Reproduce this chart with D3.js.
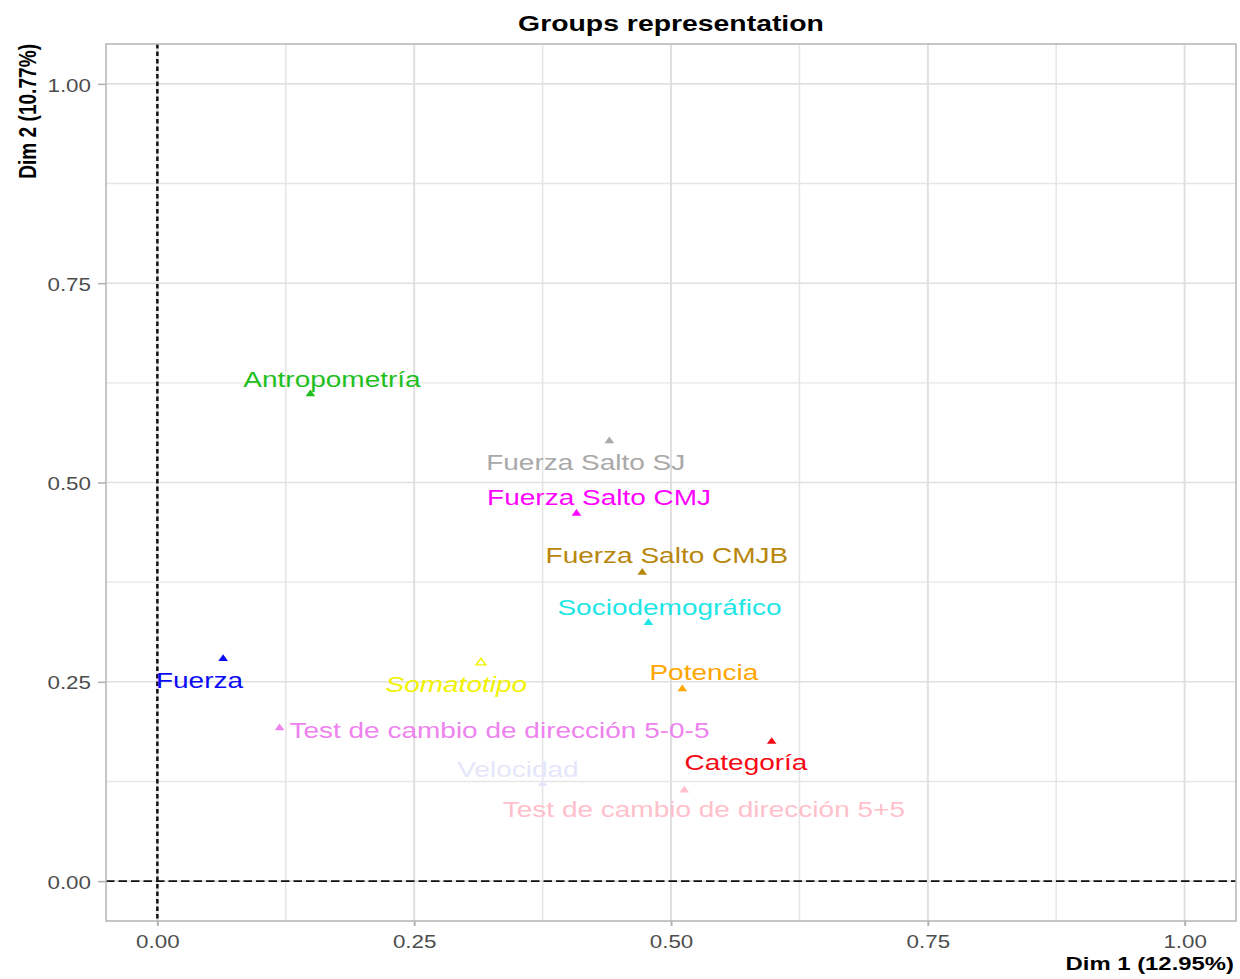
<!DOCTYPE html>
<html>
<head>
<meta charset="utf-8">
<script src="https://cdn.jsdelivr.net/npm/d3@7"></script>
<style>
  html, body { margin: 0; padding: 0; background: #ffffff; }
  svg { display: block; }
  text { font-family: "Liberation Sans", Arial, Helvetica, sans-serif; }
</style>
</head>
<body>
<svg id="chart" width="1240" height="979"></svg>
<script>
// Group coordinates on the first two dimensions
const groups = [
  "Antropometría", "Fuerza Salto SJ", "Fuerza Salto CMJ", "Fuerza Salto CMJB",
  "Sociodemográfico", "Fuerza", "Somatotipo", "Test de cambio de dirección 5-0-5",
  "Potencia", "Categoría", "Velocidad", "Test de cambio de dirección 5+5"
];
const dim1 = [0.149, 0.440, 0.408, 0.472, 0.478, 0.064, 0.315, 0.119, 0.511, 0.598, 0.375, 0.513];
const dim2 = [0.611, 0.552, 0.461, 0.387, 0.324, 0.279, 0.274, 0.192, 0.241, 0.175, 0.122, 0.114];

// Repelled label anchors (data units)
const labelDim1 = [0.170, 0.417, 0.430, 0.496, 0.4985, 0.041, 0.291, 0.333, 0.532, 0.573, 0.351, 0.532];
const labelDim2 = [0.630, 0.526, 0.482, 0.409, 0.344, 0.252, 0.247, 0.189, 0.262, 0.149, 0.140, 0.090];

// Group palette
const palette = ["#1fbf1f", "#a9a9a9", "#ff00ff", "#b8860b", "#1ee6e6", "#0a0af5",
                 "#f2f200", "#ee82ee", "#ffa500", "#f50a14", "#e6e6fa", "#ffc0cb"];
const hollowGroups = ["Somatotipo"];
const italicGroups = ["Somatotipo"];

const xTicks = [0, 0.25, 0.5, 0.75, 1];
const yTicks = [0, 0.25, 0.5, 0.75, 1];
const xMinor = [0.125, 0.375, 0.625, 0.875];
const yMinor = [0.125, 0.375, 0.625, 0.875];

const titleText = "Groups representation";
const xTitle = "Dim 1 (12.95%)";
const yTitle = "Dim 2 (10.77%)";

// Horizontal stretch applied to glyphs
const SX = 1.25;

const svg = d3.select("#chart");
const panel = { left: 106, right: 1236, top: 44, bottom: 921 };

const x = d3.scaleLinear().domain([-0.05, 1.05]).range([panel.left, panel.right]);
const y = d3.scaleLinear().domain([-0.05, 1.05]).range([panel.bottom, panel.top]);
const color = d3.scaleOrdinal().domain(groups).range(palette);

const data = groups.map((g, i) => ({
  name: g, d1: dim1[i], d2: dim2[i], l1: labelDim1[i], l2: labelDim2[i]
}));

// Panel background
svg.append("rect")
  .attr("x", panel.left).attr("y", panel.top)
  .attr("width", panel.right - panel.left).attr("height", panel.bottom - panel.top)
  .attr("fill", "#ffffff");

// Grid
const grid = svg.append("g");
grid.selectAll("line.vminor").data(xMinor).join("line")
  .attr("x1", d => x(d)).attr("x2", d => x(d))
  .attr("y1", panel.top).attr("y2", panel.bottom)
  .attr("stroke", "#e6e6e6").attr("stroke-width", 1.6);
grid.selectAll("line.hminor").data(yMinor).join("line")
  .attr("y1", d => y(d)).attr("y2", d => y(d))
  .attr("x1", panel.left).attr("x2", panel.right)
  .attr("stroke", "#e6e6e6").attr("stroke-width", 1.3);
grid.selectAll("line.vmajor").data(xTicks).join("line")
  .attr("x1", d => x(d)).attr("x2", d => x(d))
  .attr("y1", panel.top).attr("y2", panel.bottom)
  .attr("stroke", "#e0e0e0").attr("stroke-width", 2);
grid.selectAll("line.hmajor").data(yTicks).join("line")
  .attr("y1", d => y(d)).attr("y2", d => y(d))
  .attr("x1", panel.left).attr("x2", panel.right)
  .attr("stroke", "#e0e0e0").attr("stroke-width", 1.6);

// Reference lines at the origin
svg.append("line")
  .attr("x1", x(0)).attr("x2", x(0)).attr("y1", panel.top).attr("y2", panel.bottom)
  .attr("stroke", "#111").attr("stroke-width", 2.5).attr("stroke-dasharray", "4.5,3");
svg.append("line")
  .attr("y1", y(0)).attr("y2", y(0)).attr("x1", panel.left).attr("x2", panel.right)
  .attr("stroke", "#111").attr("stroke-width", 1.9).attr("stroke-dasharray", "8.5,4");

// Markers
const tri = d3.symbol().type(d3.symbolTriangle).size(26);
svg.append("g").selectAll("path").data(data).join("path")
  .attr("d", tri)
  .attr("transform", d => `translate(${x(d.d1)},${y(d.d2)}) scale(${SX},1)`)
  .attr("fill", d => hollowGroups.includes(d.name) ? "none" : color(d.name))
  .attr("stroke", d => hollowGroups.includes(d.name) ? color(d.name) : "none")
  .attr("stroke-width", 1.3);

// Labels
svg.append("g").selectAll("text").data(data).join("text")
  .attr("transform", d => `translate(${x(d.l1)},${y(d.l2)}) scale(${SX},1)`)
  .attr("text-anchor", "middle")
  .attr("dy", "0.35em")
  .attr("font-size", 22.4)
  .attr("font-style", d => italicGroups.includes(d.name) ? "italic" : "normal")
  .attr("fill", d => color(d.name))
  .text(d => d.name);

// Panel border
svg.append("rect")
  .attr("x", panel.left).attr("y", panel.top)
  .attr("width", panel.right - panel.left).attr("height", panel.bottom - panel.top)
  .attr("fill", "none").attr("stroke", "#b8b8b8").attr("stroke-width", 1.6);

// Axes
const fmt = d3.format(".2f");
const xAxis = svg.append("g")
  .attr("transform", `translate(0,${panel.bottom})`)
  .call(d3.axisBottom(x).tickValues(xTicks).tickFormat(fmt).tickSize(5).tickSizeOuter(0));
xAxis.select(".domain").remove();
xAxis.selectAll(".tick line").attr("stroke", "#b3b3b3").attr("stroke-width", 2);
xAxis.selectAll(".tick text")
  .attr("y", 14.4).attr("dy", "0.71em")
  .attr("transform", `scale(${SX},1)`)
  .attr("font-size", 17.9).attr("fill", "#4d4d4d")
  .style("font-family", "'Liberation Sans', Arial, sans-serif");

const yAxis = svg.append("g")
  .attr("transform", `translate(${panel.left},0)`)
  .call(d3.axisLeft(y).tickValues(yTicks).tickFormat(fmt).tickSize(8).tickSizeOuter(0));
yAxis.select(".domain").remove();
yAxis.selectAll(".tick line").attr("stroke", "#b3b3b3").attr("stroke-width", 1.6);
yAxis.selectAll(".tick text")
  .attr("x", -15 / SX).attr("dy", "0.4em")
  .attr("transform", `scale(${SX},1)`)
  .attr("font-size", 17.9).attr("fill", "#4d4d4d")
  .style("font-family", "'Liberation Sans', Arial, sans-serif");

// Titles
svg.append("text")
  .attr("transform", `translate(${(panel.left + panel.right) / 2},31) scale(${SX},1)`)
  .attr("text-anchor", "middle")
  .attr("font-size", 22.7).attr("font-weight", "bold").attr("fill", "#000")
  .text(titleText);

svg.append("text")
  .attr("transform", `translate(1234,970) scale(${SX},1)`)
  .attr("text-anchor", "end")
  .attr("font-size", 19.1).attr("font-weight", "bold").attr("fill", "#000")
  .text(xTitle);

svg.append("text")
  .attr("transform", `translate(36,${panel.top}) scale(${SX},1) rotate(-90)`)
  .attr("text-anchor", "end")
  .attr("font-size", 19.1).attr("font-weight", "bold").attr("fill", "#000")
  .text(yTitle);
</script>
</body>
</html>
